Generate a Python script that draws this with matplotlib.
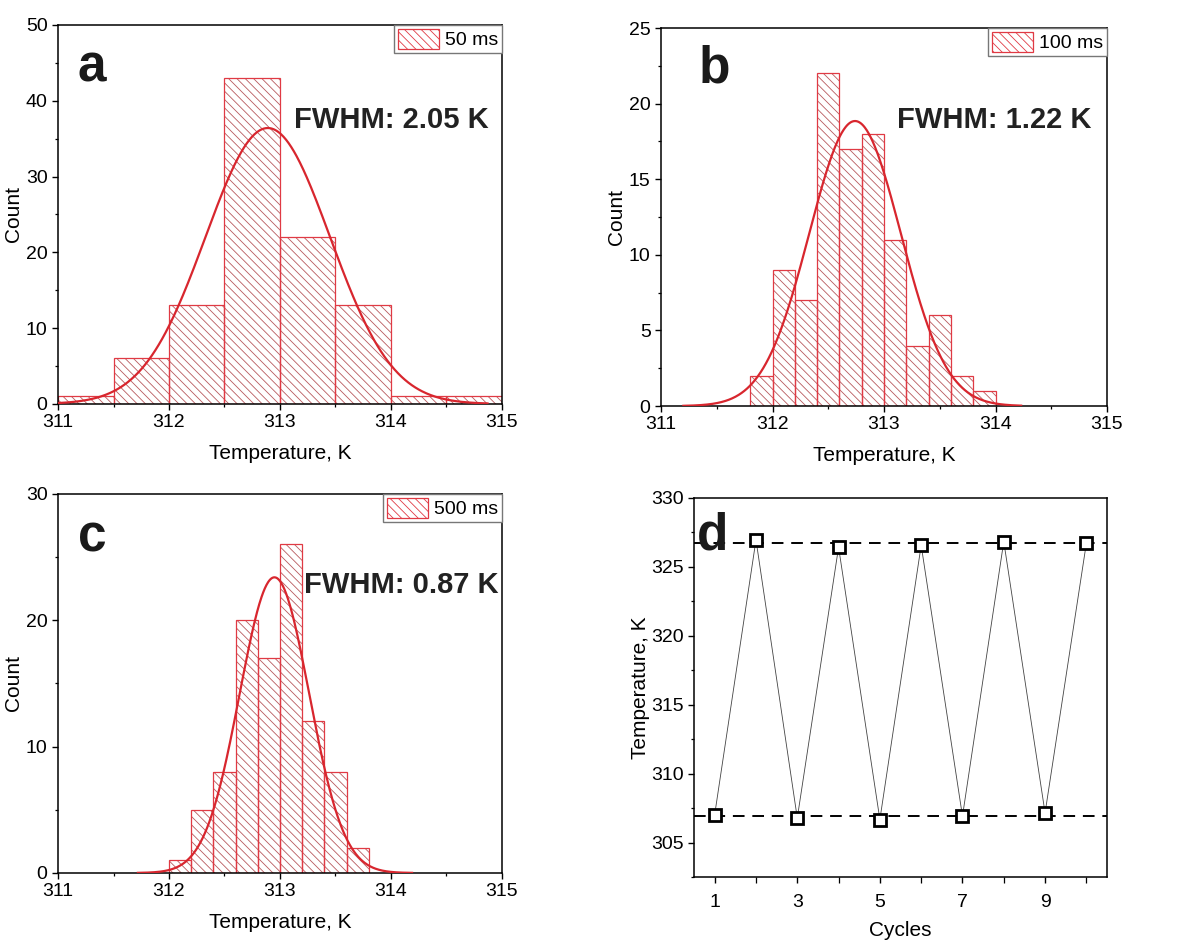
import numpy as np
import matplotlib
matplotlib.use("Agg")
import matplotlib.pyplot as plt
from matplotlib.patches import Patch
from matplotlib.ticker import MultipleLocator, FixedLocator

plt.rcParams['font.family'] = ['Liberation Sans', 'DejaVu Sans']
plt.rcParams['hatch.linewidth'] = 0.6

# histogram data (left bin edge, counts)
a_edges = [311.0, 311.5, 312.0, 312.5, 313.0, 313.5, 314.0, 314.5]
a_counts = [1, 6, 13, 43, 22, 13, 1, 1]
a_width = 0.5
a_fit = dict(center=312.89, amp=36.4, sigma=0.56, lo=311.0, hi=314.87)

b_edges = [311.8, 312.0, 312.2, 312.4, 312.6, 312.8, 313.0, 313.2, 313.4, 313.6, 313.8]
b_counts = [2, 9, 7, 22, 17, 18, 11, 4, 6, 2, 1]
b_width = 0.2
b_fit = dict(center=312.74, amp=18.85, sigma=0.41, lo=311.2, hi=314.23)

c_edges = [312.0, 312.2, 312.4, 312.6, 312.8, 313.0, 313.2, 313.4, 313.6]
c_counts = [1, 5, 8, 20, 17, 26, 12, 8, 2]
c_width = 0.2
c_fit = dict(center=312.95, amp=23.4, sigma=0.313, lo=311.72, hi=314.19)

# cycling data
cycles = [1, 2, 3, 4, 5, 6, 7, 8, 9, 10]
cycle_temps = [307.03, 326.96, 306.78, 326.43, 306.67, 326.57, 306.91, 326.84, 307.15, 326.72]
hot_level = 326.72
cold_level = 306.9

RED = '#d8262e'
EDGE = '#e03a44'
HATCH = '#b85a5e'

fig = plt.figure(figsize=(11.96, 9.41), dpi=100)


def style_axes(ax):
    for s in ax.spines.values():
        s.set_linewidth(1.1)
    ax.tick_params(which='both', direction='out', top=False, right=False, labelsize=14)
    ax.tick_params(which='major', length=4.5, width=1.0, pad=3)
    ax.tick_params(which='minor', length=2.5, width=0.9)


def hist_panel(rect, edges, counts, width, fit, ymax, ymajor, letter, letter_pos,
               fwhm, fwhm_pos, label):
    ax = fig.add_axes(rect)
    # hatch layer, then outline layer
    ax.bar(edges, counts, width=width, align='edge', facecolor='none', hatch='\\\\\\\\',
           edgecolor=HATCH, linewidth=0, zorder=2)
    ax.bar(edges, counts, width=width, align='edge', fill=False,
           edgecolor=EDGE, linewidth=0.9, zorder=2)
    x = np.linspace(fit['lo'], fit['hi'], 500)
    y = fit['amp'] * np.exp(-(x - fit['center']) ** 2 / (2 * fit['sigma'] ** 2))
    ax.plot(x, y, color=RED, lw=1.6, zorder=3)
    ax.set_xlim(311, 315)
    ax.set_ylim(0, ymax)
    ax.xaxis.set_major_locator(MultipleLocator(1))
    ax.xaxis.set_minor_locator(MultipleLocator(0.5))
    ax.yaxis.set_major_locator(MultipleLocator(ymajor))
    ax.yaxis.set_minor_locator(MultipleLocator(ymajor / 2))
    style_axes(ax)
    ax.set_xlabel('Temperature, K', fontsize=15, labelpad=9)
    ax.set_ylabel('Count', fontsize=15, labelpad=2)
    ax.text(letter_pos[0], letter_pos[1], letter, transform=ax.transAxes,
            fontsize=37, fontweight='bold', va='baseline', ha='left', color='#1a1a1a')
    ax.text(fwhm_pos[0], fwhm_pos[1], fwhm, transform=ax.transAxes,
            fontsize=21, fontweight='bold', va='baseline', ha='right', color='#222222')
    handle = Patch(facecolor='none', edgecolor=EDGE, hatch='\\\\\\\\', linewidth=0.9)
    leg = ax.legend([handle], [label], loc='upper right', borderaxespad=0,
                    fancybox=False, fontsize=14, handlelength=2.1, handleheight=1.2,
                    handletextpad=0.3, borderpad=0.2, framealpha=1)
    leg.get_frame().set_edgecolor('#777777')
    leg.get_frame().set_linewidth(1.0)
    return ax


hist_panel([0.0485, 0.5707, 0.3712, 0.4028], a_edges, a_counts, a_width, a_fit,
           50, 10, 'a', (0.045, 0.85), 'FWHM: 2.05 K', (0.97, 0.728), '50 ms')
hist_panel([0.5527, 0.5685, 0.3729, 0.4017], b_edges, b_counts, b_width, b_fit,
           25, 5, 'b', (0.085, 0.857), 'FWHM: 1.22 K', (0.966, 0.735), '100 ms')
hist_panel([0.0485, 0.0723, 0.3712, 0.4028], c_edges, c_counts, c_width, c_fit,
           30, 10, 'c', (0.045, 0.847), 'FWHM: 0.87 K', (0.993, 0.739), '500 ms')

# panel d
ax = fig.add_axes([0.5803, 0.068, 0.3453, 0.4028])
ax.axhline(hot_level, color='black', lw=1.4, dashes=(6, 4), zorder=1)
ax.axhline(cold_level, color='black', lw=1.4, dashes=(6, 4), zorder=1)
ax.plot(cycles, cycle_temps, color='#444444', lw=0.6, zorder=2)
ax.plot(cycles, cycle_temps, ls='none', marker='s', markersize=8, mfc='white',
        mec='black', mew=2.0, zorder=3)
ax.set_xlim(0.5, 10.5)
ax.set_ylim(302.5, 330)
ax.xaxis.set_major_locator(FixedLocator([1, 3, 5, 7, 9]))
ax.xaxis.set_minor_locator(FixedLocator([2, 4, 6, 8, 10]))
ax.yaxis.set_major_locator(MultipleLocator(5))
ax.yaxis.set_minor_locator(MultipleLocator(2.5))
style_axes(ax)
ax.tick_params(axis='x', which='minor', length=4.5)
ax.tick_params(axis='x', which='major', pad=8)
ax.set_xlabel('Cycles', fontsize=15, labelpad=7)
ax.set_ylabel('Temperature, K', fontsize=15, labelpad=1)
ax.text(0.007, 0.863, 'd', transform=ax.transAxes, fontsize=37, fontweight='bold',
        va='baseline', ha='left', color='#1a1a1a')

fig.savefig('out.png', dpi=100)
